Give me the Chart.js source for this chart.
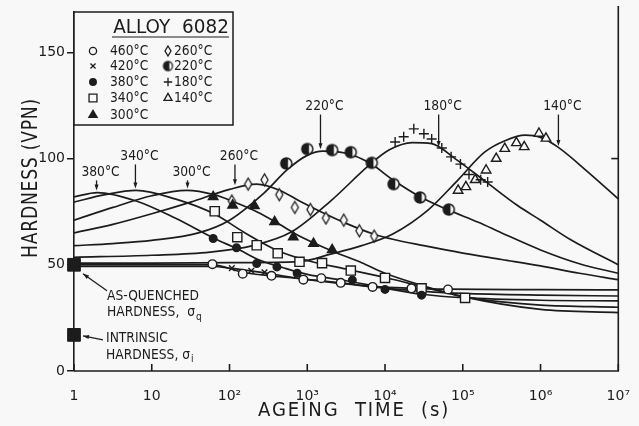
<!DOCTYPE html>
<html>
<head>
<meta charset="utf-8">
<script src="https://cdn.jsdelivr.net/npm/chart.js@4/dist/chart.umd.min.js"></script>
<style>
  html, body { margin: 0; padding: 0; background: #f8f8f8; }
</style>
</head>
<body>
<canvas id="chart" width="639" height="426"></canvas>
<script>
// Hardness curves of alloy 6082: [log10 of ageing time in s, hardness in VPN]
const curve460 = [[0, 50], [1.78, 50], [2.17, 46.5], [2.54, 44.8], [2.96, 43.3], [3.43, 41.5], [3.84, 39.8], [4.34, 38.9], [4.81, 38.5], [6, 38.3], [7, 38.2]];
const curve420 = [[0, 49.2], [1.78, 49.2], [2.03, 48.3], [2.3, 47], [2.6, 45.3], [3, 43], [3.5, 41], [4, 39], [4.5, 37.5], [5, 36.5], [6, 35.7], [7, 35.3]];
const curve380 = [[0, 82], [0.3, 84], [0.8, 80], [1.3, 72], [1.8, 62.5], [2.1, 57.5], [2.4, 52], [2.7, 48.5], [3, 45.5], [3.5, 42.5], [4, 39], [4.5, 36], [5, 34.5], [6, 33.3], [7, 33]];
const curve340 = [[0, 79.5], [0.4, 83], [0.8, 85], [1.3, 81], [1.8, 74], [2.2, 65], [2.6, 57], [3, 52], [3.5, 48], [4, 44], [4.5, 39.5], [5, 35], [5.5, 32.5], [6, 31], [7, 30]];
const curve300 = [[0, 71], [0.5, 77], [1, 82.5], [1.45, 85], [1.8, 83], [2.1, 79], [2.35, 75], [2.6, 70], [2.85, 64.5], [3.1, 60], [3.35, 56], [3.7, 51], [4, 46], [4.5, 40], [5, 35], [6, 29], [7, 27.5]];
const curve260 = [[0, 65], [0.5, 69], [1, 74], [1.5, 79.5], [2, 85.5], [2.35, 88], [2.65, 85], [2.9, 80], [3.2, 74.5], [3.5, 69.5], [3.85, 64.5], [4.1, 62], [4.5, 59], [5, 55.5], [5.5, 52.5], [6, 49.5], [6.5, 46], [7, 43]];
const curve220 = [[0, 59], [0.5, 60], [1, 61.5], [1.6, 65], [2, 71], [2.45, 84], [2.75, 95], [3, 101.5], [3.2, 103.5], [3.5, 102.5], [3.8, 98], [4.1, 90], [4.45, 82], [4.8, 76], [5.2, 70], [5.5, 65], [6, 57], [6.5, 50.5], [7, 46]];
const curve180 = [[0, 53.5], [1, 54.5], [1.75, 56], [2.3, 59], [2.8, 65.5], [3.3, 80], [3.8, 97], [4.05, 104], [4.35, 107.5], [4.6, 107], [4.9, 100], [5.3, 89], [5.7, 78], [6, 71], [6.4, 61.5], [7, 50]];
const curve140 = [[0, 50.8], [1, 50.8], [2, 51], [2.9, 51.5], [3.3, 55], [3.7, 59], [4.1, 64.5], [4.56, 76], [4.94, 90], [5.28, 103], [5.55, 108.5], [5.8, 111], [6, 110], [6.22, 105.5], [6.6, 94], [7, 81]];

// Measured points: [log10 of ageing time in s, hardness in VPN]
const points460 = [[1.78, 50.3], [2.17, 45.8], [2.54, 44.8], [2.95, 43], [3.18, 43.7], [3.43, 41.5], [3.84, 39.6], [4.34, 38.9], [4.81, 38.4]];
const points420 = [[2.03, 48.4], [2.28, 47.2], [2.45, 46.5]];
const points380 = [[1.79, 62.4], [2.09, 58], [2.35, 50.6], [2.61, 49], [2.87, 46], [3.58, 42.8], [4.0, 38.4], [4.47, 35.7]];
const points340 = [[1.81, 75.2], [2.1, 63], [2.35, 59.2], [2.62, 55.4], [2.9, 51.4], [3.19, 50.8], [3.56, 47.3], [4.0, 43.8], [4.47, 38.9], [5.03, 34.4]];
const points300 = [[1.79, 82], [2.04, 78], [2.32, 77.8], [2.58, 70.2], [2.82, 63], [3.08, 60], [3.32, 57]];
const points260 = [[2.03, 80], [2.24, 88], [2.45, 90], [2.64, 83], [2.84, 77], [3.04, 76], [3.24, 72], [3.47, 71], [3.67, 66], [3.86, 63.5]];
const points220 = [[2.73, 97.7], [3.0, 104.5], [3.32, 104], [3.56, 103], [3.83, 98], [4.11, 88], [4.45, 81.7], [4.82, 76]];
const points180 = [[4.13, 107.8], [4.24, 110.3], [4.37, 114], [4.5, 111.7], [4.6, 109.2], [4.73, 105], [4.85, 100.8], [4.97, 97.4], [5.08, 92.5], [5.23, 90], [5.32, 89]];
const points140 = [[4.94, 85], [5.04, 86.7], [5.16, 90], [5.3, 94.5], [5.43, 100], [5.54, 104.7], [5.69, 107.4], [5.79, 105.5], [5.98, 111.8], [6.07, 109.5]];

// As-quenched and intrinsic hardness at t = 1 s
const asQuenched = [[0, 50]];
const intrinsic = [[0, 17]];

// Peak arrows: label and the point on the curve it points at
const peakLabels = ['380°C', '340°C', '300°C', '260°C', '220°C', '180°C', '140°C'];
const peakTips = [[0.29, 84], [0.79, 85], [1.46, 85], [2.07, 86.5], [3.17, 103.5], [4.69, 104.5], [6.23, 105]];

const temps = ['460°C', '420°C', '380°C', '340°C', '300°C', '260°C', '220°C', '180°C', '140°C'];
const xTickLabels = ['1', '10', '10²', '10³', '10⁴', '10⁵', '10⁶', '10⁷'];

const INK = '#1c1c1c';
const PAPER = '#f8f8f8';
const FONT = '"DejaVu Sans"';

const toXY = arr => arr.map(([e, v]) => ({ x: Math.pow(10, e), y: v }));

// custom marker images
function halfDisc(r, lw) {
  const c = document.createElement('canvas');
  const s = Math.ceil(r * 2 + 4);
  c.width = c.height = s;
  const g = c.getContext('2d');
  const m = s / 2;
  g.fillStyle = PAPER;
  g.beginPath(); g.arc(m, m, r, 0, Math.PI * 2); g.fill();
  g.fillStyle = INK;
  g.beginPath(); g.arc(m, m, r, Math.PI * 0.4, Math.PI * 1.6); g.closePath(); g.fill();
  g.strokeStyle = INK; g.lineWidth = lw;
  g.beginPath(); g.arc(m, m, r, 0, Math.PI * 2); g.stroke();
  return c;
}
function narrowDiamond(w, h) {
  const c = document.createElement('canvas');
  c.width = w + 4; c.height = h + 4;
  const g = c.getContext('2d');
  const cx = c.width / 2, cy = c.height / 2;
  g.beginPath();
  g.moveTo(cx, cy - h / 2); g.lineTo(cx + w / 2, cy); g.lineTo(cx, cy + h / 2); g.lineTo(cx - w / 2, cy); g.closePath();
  g.fillStyle = PAPER; g.fill();
  g.strokeStyle = INK; g.lineWidth = 1.3; g.stroke();
  return c;
}

const half = halfDisc(5.5, 1.5);
const halfSmall = halfDisc(4.5, 1.3);
const diamond = narrowDiamond(7, 12);
const diamondSmall = narrowDiamond(6, 10);

const styles = {
  '460°C': { pointStyle: 'circle', radius: 4.3, bg: PAPER, legend: 3.6 },
  '420°C': { pointStyle: 'crossRot', radius: 4, bg: INK, legend: 3.6 },
  '380°C': { pointStyle: 'circle', radius: 3.8, bg: INK, legend: 3.3 },
  '340°C': { pointStyle: 'rect', radius: 6.5, bg: PAPER, legend: 5.6 },
  '300°C': { pointStyle: 'triangle', radius: 5.5, bg: INK, legend: 4.8 },
  '260°C': { pointStyle: diamond, radius: 5, bg: PAPER, legend: 4, small: diamondSmall },
  '220°C': { pointStyle: half, radius: 6, bg: PAPER, legend: 5, small: halfSmall },
  '180°C': { pointStyle: 'cross', radius: 5, bg: INK, legend: 4.2 },
  '140°C': { pointStyle: 'triangle', radius: 5.5, bg: PAPER, legend: 4.6 }
};

const curves = [curve460, curve420, curve380, curve340, curve300, curve260, curve220, curve180, curve140];
const pointSets = [points460, points420, points380, points340, points300, points260, points220, points180, points140];

const datasets = [];
curves.forEach(c => datasets.push({
  data: toXY(c),
  borderColor: INK,
  borderWidth: 1.7,
  pointRadius: 0,
  cubicInterpolationMode: 'monotone',
  fill: false,
  order: 3
}));
pointSets.forEach((p, i) => {
  const st = styles[temps[i]];
  datasets.push({
    data: toXY(p),
    showLine: false,
    clip: false,
    pointStyle: st.pointStyle,
    pointRadius: st.radius,
    pointBackgroundColor: st.bg,
    pointBorderColor: INK,
    pointBorderWidth: 1.4,
    order: 1
  });
});
[asQuenched, intrinsic].forEach(p => datasets.push({
  data: toXY(p),
  showLine: false,
  clip: false,
  pointStyle: 'rect',
  pointRadius: 9,
  pointBackgroundColor: INK,
  pointBorderColor: INK,
  pointBorderWidth: 1,
  order: 0
}));

function setFont(ctx, size) {
  ctx.font = size + 'px ' + FONT;
}
// draws text squeezed horizontally, returns the drawn width
function text(ctx, str, x, y, size, align, sx) {
  sx = sx || 0.9;
  ctx.save();
  setFont(ctx, size);
  const w = ctx.measureText(str).width * sx;
  ctx.translate(x, y);
  ctx.scale(sx, 1);
  ctx.textAlign = align || 'left';
  ctx.textBaseline = 'middle';
  ctx.fillText(str, 0, 0);
  ctx.restore();
  return w;
}
function arrowHead(ctx, x, y, angle, len, wid) {
  ctx.save();
  ctx.translate(x, y);
  ctx.rotate(angle);
  ctx.beginPath();
  ctx.moveTo(0, 0);
  ctx.lineTo(-len, -wid / 2);
  ctx.lineTo(-len, wid / 2);
  ctx.closePath();
  ctx.fill();
  ctx.restore();
}
function arrow(ctx, x1, y1, x2, y2) {
  ctx.beginPath(); ctx.moveTo(x1, y1); ctx.lineTo(x2, y2); ctx.stroke();
  arrowHead(ctx, x2, y2, Math.atan2(y2 - y1, x2 - x1), 6, 4);
}

const decor = {
  id: 'decor',
  afterDraw(chart) {
    const { ctx, chartArea: a, scales: { x, y } } = chart;
    ctx.save();
    ctx.strokeStyle = INK;
    ctx.fillStyle = INK;
    ctx.lineWidth = 1.6;

    // bottom and right frame
    ctx.beginPath();
    ctx.moveTo(a.left, a.bottom); ctx.lineTo(a.right, a.bottom);
    ctx.lineTo(a.right, a.top - 6);
    ctx.stroke();

    // inward ticks on the time axis
    x.ticks.forEach(t => {
      const px = x.getPixelForValue(t.value);
      ctx.beginPath(); ctx.moveTo(px, a.bottom); ctx.lineTo(px, a.bottom - 7); ctx.stroke();
    });
    const y100 = y.getPixelForValue(100);
    ctx.beginPath(); ctx.moveTo(a.right, y100); ctx.lineTo(a.right - 7, y100); ctx.stroke();

    // legend box
    const bx = a.left, by = a.top, bw = 159, bh = 113;
    ctx.fillStyle = PAPER;
    ctx.fillRect(bx, by, bw, bh);
    ctx.lineWidth = 1.5;
    ctx.strokeRect(bx, by, bw, bh);
    ctx.fillStyle = INK;
    text(ctx, 'ALLOY  6082', bx + 97, by + 16, 20, 'center', 0.92);
    ctx.lineWidth = 1.2;
    ctx.beginPath(); ctx.moveTo(bx + 38, by + 25); ctx.lineTo(bx + 155, by + 25); ctx.stroke();
    const rows = [39, 54, 70, 86, 103];
    temps.forEach((t, i) => {
      const col = i < 5 ? 0 : 1;
      const row = col ? i - 5 : i;
      const mx = bx + (col ? 94 : 19);
      const tx = bx + (col ? 100 : 36);
      const my = by + rows[row];
      const st = styles[t];
      ctx.fillStyle = st.bg;
      ctx.strokeStyle = INK;
      ctx.lineWidth = 1.3;
      Chart.helpers.drawPoint(ctx, {
        pointStyle: st.small || st.pointStyle, radius: st.legend, rotation: 0, borderWidth: 1.3
      }, mx, my);
      ctx.fillStyle = INK;
      text(ctx, t, tx, my, 14, 'left', 0.88);
    });

    // peak labels with arrows
    ctx.lineWidth = 1.3;
    const labelLevels = [93.5, 101, 93.5, 101, 124.5, 124.5, 124.5];
    peakLabels.forEach((lab, i) => {
      const px = x.getPixelForValue(Math.pow(10, peakTips[i][0]));
      const tipY = y.getPixelForValue(peakTips[i][1]) - 2;
      const ly = y.getPixelForValue(labelLevels[i]);
      text(ctx, lab, px + 4, ly, 14, 'center', 0.88);
      ctx.beginPath(); ctx.moveTo(px, ly + 8); ctx.lineTo(px, tipY - 4); ctx.stroke();
      arrowHead(ctx, px, tipY, Math.PI / 2, 6, 4);
    });

    // as-quenched and intrinsic annotations
    const x0 = x.getPixelForValue(1);
    const yq = y.getPixelForValue(50);
    const yi = y.getPixelForValue(17);
    ctx.lineWidth = 1.3;
    arrow(ctx, x0 + 33, yq + 26, x0 + 9, yq + 9);
    text(ctx, 'AS-QUENCHED', x0 + 33, yq + 32, 14, 'left', 0.88);
    let w = text(ctx, 'HARDNESS,  σ', x0 + 33, yq + 48, 14, 'left', 0.88);
    text(ctx, 'q', x0 + 34 + w, yq + 53, 10, 'left', 0.9);
    arrow(ctx, x0 + 29, yi + 5, x0 + 9, yi + 1);
    text(ctx, 'INTRINSIC', x0 + 32, yi + 3, 14, 'left', 0.88);
    w = text(ctx, 'HARDNESS, σ', x0 + 32, yi + 20, 14, 'left', 0.88);
    text(ctx, 'i', x0 + 33 + w, yi + 25, 10, 'left', 0.9);

    // axis titles
    ctx.save();
    ctx.letterSpacing = '2px';
    text(ctx, 'AGEING  TIME  (s)', (a.left + a.right) / 2 + 8, 411, 19, 'center', 0.95);
    ctx.translate(31, 178);
    ctx.rotate(-Math.PI / 2);
    ctx.letterSpacing = '1px';
    text(ctx, 'HARDNESS (VPN)', 0, 0, 22, 'center', 0.78);
    ctx.restore();

    ctx.restore();
  }
};

new Chart(document.getElementById('chart'), {
  type: 'line',
  data: { datasets },
  options: {
    responsive: false,
    animation: false,
    events: [],
    layout: { padding: { top: 12, right: 18, left: 0, bottom: 0 } },
    plugins: { legend: { display: false }, tooltip: { enabled: false } },
    scales: {
      x: {
        type: 'logarithmic',
        min: 1,
        max: 1e7,
        afterBuildTicks: s => { s.ticks = xTickLabels.map((_, i) => ({ value: Math.pow(10, i) })); },
        afterFit: s => { s.height = 55; },
        grid: { display: false },
        border: { display: false },
        ticks: {
          autoSkip: false,
          maxRotation: 0,
          padding: 9,
          color: INK,
          font: { family: FONT, size: 14 },
          callback: (v, i) => xTickLabels[i]
        }
      },
      y: {
        min: 0,
        max: 169,
        afterFit: s => { s.width = 74; },
        grid: { drawOnChartArea: false, tickLength: 7, color: INK, lineWidth: 1.5 },
        border: { display: true, color: INK, width: 1.6 },
        ticks: {
          stepSize: 50,
          includeBounds: false,
          padding: 2,
          color: INK,
          font: { family: FONT, size: 14 }
        }
      }
    }
  },
  plugins: [decor]
});
</script>
</body>
</html>
